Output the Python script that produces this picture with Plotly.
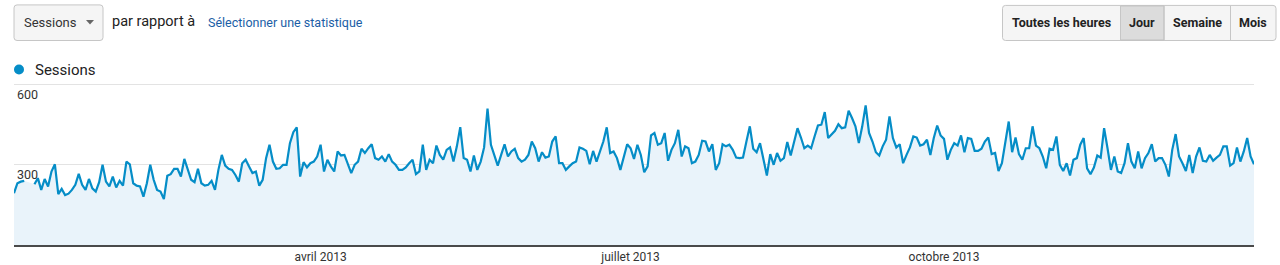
import plotly.graph_objects as go
import pandas as pd

# ---------------- data ----------------
start_date = "2013-01-01"
end_date = "2013-12-31"
sessions = [
    194, 231, 237, 240, None, None, 227, 250, 206, 247,
    219, 275, 302, 190, 210, 187, 192, 206, 225, 266,
    225, 206, 247, 212, 200, 235, 300, 237, 219, 256,
    215, 240, 222, 312, 302, 231, 222, 219, 181, 231,
    300, 244, 206, 200, 172, 259, 265, 285, 285, 256,
    322, 285, 244, 235,
    285, 231, 222, 225, 240, 206, 281, 337, 297, 285,
    281, 262, 237, 306, 319, 294, 269, 275, 222, 244,
    325, 375, 312, 285, 287, 300, 300, 381, 422, 440,
    256, 310, 290, 306, 312, 331, 375, 275, 319, 294,
    275, 350, 335, 337, 306, 269, 300, 312, 360, 344,
    362, 377, 325,
    319, 331, 312, 340, 312, 300, 281, 281, 290, 306,
    319, 265, 275, 375, 281, 319, 306, 372, 337, 319,
    356, 365, 312, 369, 441, 325, 319, 275, 335, 281,
    312, 365, 510, 375, 331, 297, 337, 377, 331, 350,
    360, 325, 312, 319, 337, 387, 362, 312, 347, 327,
    331, 387, 406,
    306, 306, 281, 294, 306, 312, 365, 360, 352, 302,
    352, 312, 352, 387, 440, 344, 350, 325, 281, 331,
    377, 362, 322, 375, 337, 272, 294, 410, 419, 375,
    381, 419, 315, 356, 381, 431, 331, 369, 362, 306,
    312, 337, 390, 387, 350, 377, 281, 306, 377, 369,
    375, 356, 327,
    325, 327, 387, 444, 360, 347, 381, 325, 260, 340,
    300, 344, 315, 325, 385, 335, 387, 437, 402, 362,
    372, 362, 406, 447, 450, 497, 400, 412, 427, 452,
    437, 440, 502, 475, 444, 381, 444, 522, 419, 387,
    347, 335, 369, 394, 481, 400, 365, 377, 306, 337,
    365, 406,
    402, 372, 377, 394, 337, 400, 447, 410, 397, 319,
    356, 381, 372, 410, 347, 400, 397, 352, 352, 360,
    387, 402, 340, 344, 277, 306, 387, 462, 347, 402,
    340, 319, 362, 362, 444, 372, 362, 331, 287, 360,
    356, 406, 300, 277, 306, 260, 319, 325, 375, 400,
    287, 265, 290,
    335, 327, 437, 362, 281, 331, 275, 269, 306, 381,
    312, 287, 350, 287, 325, 344, 377, 312, 325, 325,
    300, 256, 356, 415, 331, 306, 277, 337, 269, 331,
    365, 315, 312, 337, 315, 327, 337, 369, 369, 297,
    306, 365, 312, 350, 400, 331, 302,
]
x_tick_dates = ["2013-04-01", "2013-07-01", "2013-10-01"]
x_tick_labels = ["avril 2013", "juillet 2013", "octobre 2013"]
y_tick_values = [300, 600]
y_tick_labels = ["300", "600"]
metric_name = "Sessions"
compare_text = "par rapport à"
select_text = "Sélectionner une statistique"
period_buttons = ["Toutes les heures", "Jour", "Semaine", "Mois"]

dates = pd.date_range(start_date, end_date, freq="D")

# ---------------- layout helpers (pixel -> paper) ----------------
W, H = 1280, 265
Y_MAX = 606
L, R, B = 14, 1254, 245
T = B - 160 * Y_MAX / 600          # 600 lands at y = 85 px
FONT = "Roboto, Arial, sans-serif"


def px(x):
    return (x - L) / (R - L)


def py(y):
    return (B - y) / (B - T)


def rrect(x0, y0, x1, y1, r):
    X0, X1, Y0, Y1 = px(x0), px(x1), py(y0), py(y1)
    rx, ry = r / (R - L), r / (B - T)
    return (f"M {X0+rx},{Y0} L {X1-rx},{Y0} Q {X1},{Y0} {X1},{Y0-ry} "
            f"L {X1},{Y1+ry} Q {X1},{Y1} {X1-rx},{Y1} L {X0+rx},{Y1} "
            f"Q {X0},{Y1} {X0},{Y1+ry} L {X0},{Y0-ry} Q {X0},{Y0} {X0+rx},{Y0} Z")


fig = go.Figure()
fig.add_trace(go.Scatter(
    x=dates, y=sessions, mode="lines", name=metric_name,
    line=dict(color="#058dc7", width=2.2),
    fill="tozeroy", fillcolor="#e9f3fa",
    connectgaps=False, hoverinfo="x+y",
))

shapes = []
annotations = []

# dropdown box
shapes.append(dict(type="path", xref="paper", yref="paper",
                   path=rrect(14, 5.5, 103, 41, 3),
                   fillcolor="#f5f5f5", line=dict(color="#c6c6c6", width=1)))
annotations.append(dict(xref="paper", yref="paper", x=px(22), y=py(23),
                        xanchor="left", yanchor="middle", showarrow=False,
                        text=metric_name, font=dict(family=FONT, size=13, color="#333")))
shapes.append(dict(type="path", xref="paper", yref="paper",
                   path=f"M {px(86)},{py(20.5)} L {px(94)},{py(20.5)} L {px(90)},{py(25)} Z",
                   fillcolor="#666", line=dict(width=0)))
annotations.append(dict(xref="paper", yref="paper", x=px(110), y=py(22),
                        xanchor="left", yanchor="middle", showarrow=False,
                        text=compare_text, font=dict(family=FONT, size=14.5, color="#222")))
annotations.append(dict(xref="paper", yref="paper", x=px(206), y=py(23),
                        xanchor="left", yanchor="middle", showarrow=False,
                        text=select_text, font=dict(family=FONT, size=12.5, color="#1a5ea6")))

# period buttons
edges = [1002.5, 1120.5, 1164, 1230.5, 1276]
shapes.append(dict(type="path", xref="paper", yref="paper",
                   path=rrect(edges[0], 6, edges[-1], 41, 3),
                   fillcolor="#f5f5f5", line=dict(color="#c6c6c6", width=1)))
shapes.append(dict(type="rect", xref="paper", yref="paper",
                   x0=px(edges[1]), x1=px(edges[2]), y0=py(6.5), y1=py(40.5),
                   fillcolor="#dcdcdc", line=dict(color="#c0c0c0", width=1)))
for e in edges[1:-1]:
    shapes.append(dict(type="line", xref="paper", yref="paper",
                       x0=px(e), x1=px(e), y0=py(6.5), y1=py(40.5),
                       line=dict(color="#c6c6c6", width=1)))
for i, lab in enumerate(period_buttons):
    annotations.append(dict(xref="paper", yref="paper",
                            x=px((edges[i] + edges[i + 1]) / 2), y=py(23.5),
                            xanchor="center", yanchor="middle", showarrow=False,
                            text=f"<b>{lab}</b>", font=dict(family=FONT, size=12.5, color="#222")))

# legend
shapes.append(dict(type="circle", xref="paper", yref="paper",
                   x0=px(14), x1=px(24), y0=py(65), y1=py(75),
                   fillcolor="#058dc7", line=dict(width=0)))
annotations.append(dict(xref="paper", yref="paper", x=px(33), y=py(70),
                        xanchor="left", yanchor="middle", showarrow=False,
                        text=metric_name, font=dict(family=FONT, size=15, color="#222")))

fig.update_layout(
    width=W, height=H,
    margin=dict(l=L, r=W - R, t=T, b=H - B, pad=0, autoexpand=False),
    paper_bgcolor="white", plot_bgcolor="white",
    showlegend=False,
    shapes=shapes, annotations=annotations,
    font=dict(family=FONT, size=12, color="#333"),
    xaxis=dict(
        type="date", range=[dates[0], dates[-1]],
        tickvals=x_tick_dates, ticktext=x_tick_labels,
        showgrid=False, zeroline=False, showline=True,
        linecolor="#4a4a4a", linewidth=1.5, ticks="",
        tickfont=dict(family=FONT, size=12, color="#333"),
        automargin=False, fixedrange=True,
    ),
    yaxis=dict(
        range=[0, Y_MAX], tickvals=y_tick_values, ticktext=y_tick_labels,
        showgrid=True, gridcolor="#e3e3e3", gridwidth=1,
        zeroline=False, showline=False, ticks="",
        ticklabelposition="inside", ticklabelshift=10, ticklabelstandoff=0,
        ticklabeloverflow="allow",
        tickfont=dict(family=FONT, size=12.5, color="#333"),
        automargin=False, fixedrange=True,
    ),
)

fig.write_html("out.html")
